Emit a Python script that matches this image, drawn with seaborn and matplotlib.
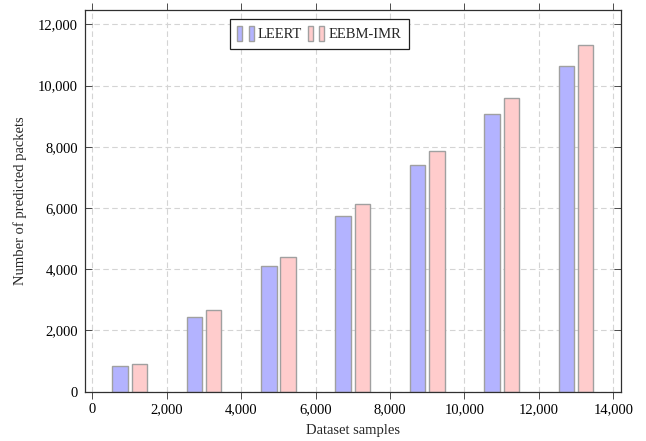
import matplotlib
matplotlib.use("Agg")
import matplotlib.pyplot as plt
import seaborn as sns
import pandas as pd
from matplotlib.patches import Rectangle
from matplotlib.legend_handler import HandlerTuple
from matplotlib.ticker import FuncFormatter, MultipleLocator

samples = [1000, 3000, 5000, 7000, 9000, 11000, 13000]
leert = [850, 2450, 4110, 5735, 7415, 9075, 10635]
eebm_imr = [895, 2660, 4410, 6145, 7865, 9605, 11340]
methods = ["LEERT", "EEBM-IMR"]
colors = {"LEERT": "#b3b3ff", "EEBM-IMR": "#ffcccc"}
edge = "#a0a0a0"

df = pd.DataFrame({
    "samples": samples * 2,
    "packets": leert + eebm_imr,
    "method": ["LEERT"] * len(samples) + ["EEBM-IMR"] * len(samples),
})

sns.set_style("ticks")
plt.rcParams["font.family"] = ["Liberation Serif", "DejaVu Serif"]
plt.rcParams["mathtext.fontset"] = "stix"

fs = 10.5
fig = plt.figure(figsize=(6.46, 4.41), dpi=100)
ax = fig.add_axes([85 / 646, 1 - 391.7 / 441, 535.7 / 646, 381.7 / 441])

sns.barplot(data=df, x="samples", y="packets", hue="method", hue_order=methods,
            native_scale=True, width=0.518, gap=0.195, palette=colors,
            saturation=1, edgecolor=edge, linewidth=1.0, errorbar=None,
            legend=False, ax=ax)

ax.set_xlim(-200, 14200)
ax.set_ylim(0, 12467)
ax.xaxis.set_major_locator(MultipleLocator(2000))
ax.yaxis.set_major_locator(MultipleLocator(2000))
fmt = FuncFormatter(lambda v, p: f"{int(round(v)):,}")
ax.xaxis.set_major_formatter(fmt)
ax.yaxis.set_major_formatter(fmt)

ax.set_axisbelow(True)
ax.grid(True, which="major", color="#d4d4d4", linestyle=(0, (5, 3)), linewidth=0.8)

for s in ax.spines.values():
    s.set_color("#303030")
    s.set_linewidth(0.9)

ax.tick_params(axis="x", which="major", direction="out", length=5, width=0.6,
               color="#303030", top=True, bottom=True, labelsize=fs, pad=3,
               labelcolor="black")
ax.tick_params(axis="y", which="major", direction="in", length=5, width=0.6,
               color="#303030", left=True, right=True, labelsize=fs, pad=5,
               labelcolor="black")

ax.set_xlabel("Dataset samples", fontsize=fs, labelpad=6)
ax.set_ylabel("Number of predicted packets", fontsize=fs, labelpad=8)

handles = []
for m in methods:
    handles.append((Rectangle((0, 0), 1, 1, fc=colors[m], ec=edge, lw=1.0),
                    Rectangle((0, 0), 1, 1, fc=colors[m], ec=edge, lw=1.0)))
leg = ax.legend(handles, methods, handler_map={tuple: HandlerTuple(ndivide=None, pad=0.42)},
                ncol=2, loc="upper left", bbox_to_anchor=(0.2707, 0.9764),
                borderaxespad=0, frameon=True, fancybox=False, edgecolor="#202020",
                framealpha=1, handlelength=1.12, handleheight=1.15,
                handletextpad=0.3, columnspacing=0.4, borderpad=0.5,
                fontsize=fs)
leg.get_frame().set_linewidth(0.9)

fig.savefig("out.png", dpi=100)
